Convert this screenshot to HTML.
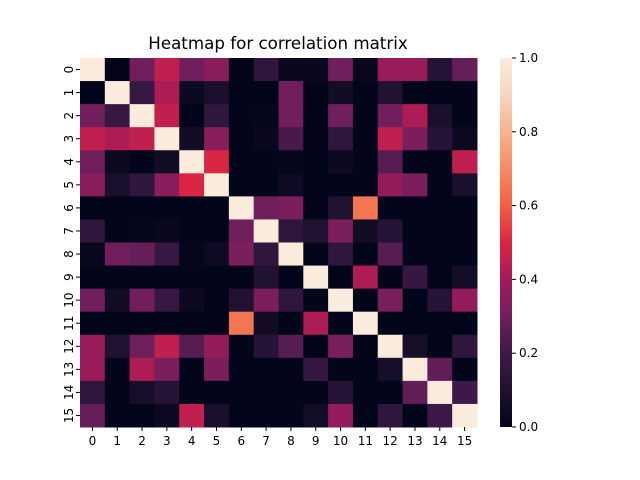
<!DOCTYPE html>
<html><head><meta charset="utf-8"><style>body{margin:0;background:#fff}svg{display:block;font-family:"DejaVu Sans","Liberation Sans",sans-serif}</style></head>
<body>
<svg id="c" width="640" height="480">
<defs><linearGradient id="cg" x1="0" y1="1" x2="0" y2="0"></linearGradient></defs>
<text x="278" y="49" text-anchor="middle" font-size="16.7">Heatmap for correlation matrix</text>
</svg>
<script>
const labels=["0","1","2","3","4","5","6","7","8","9","10","11","12","13","14","15"];
const row0=[1,0,.3,.45,.3,.35,0,.15,.02,.02,.3,.02,.38,.38,.12,.28];
const row1=[0,1,.18,.42,.03,.08,0,0,.3,0,.05,0,.1,0,0,0];
const row2=[.3,.18,1,.45,0,.15,0,.01,.3,0,.3,0,.3,.42,.08,0];
const row3=[.45,.42,.45,1,.05,.35,0,.02,.22,0,.15,0,.45,.32,.12,.03];
const row4=[.3,.03,0,.05,1,.5,0,0,.01,0,.03,0,.25,0,0,.45];
const row5=[.35,.08,.15,.35,.5,1,0,0,.04,0,0,0,.37,.32,0,.08];
const row6=[0,0,0,0,0,0,1,.3,.32,0,.1,.65,0,0,0,0];
const row7=[.15,0,.01,.02,0,0,.3,1,.15,.1,.32,.05,.12,0,0,0];
const row8=[.02,.3,.28,.18,.01,.04,.32,.15,1,0,.15,0,.25,0,0,0];
const row9=[0,0,0,0,0,0,0,.1,0,1,0,.42,0,.17,0,.06];
const row10=[.3,.05,.3,.18,.03,0,.1,.32,.15,0,1,0,.32,0,.12,.37];
const row11=[0,0,0,0,0,0,.65,.05,0,.42,0,1,0,0,0,0];
const row12=[.38,.1,.3,.45,.25,.37,0,.12,.25,0,.32,0,1,.07,0,.15];
const row13=[.38,0,.42,.32,0,.32,0,0,0,.17,0,0,.07,1,.27,0];
const row14=[.15,0,.07,.12,0,0,0,0,0,0,.12,0,0,.27,1,.2];
const row15=[.28,0,0,.03,.45,.08,0,0,0,.06,.37,0,.15,0,.2,1];
const matrix=[row0,row1,row2,row3,row4,row5,row6,row7,row8,row9,row10,row11,row12,row13,row14,row15];
const cbTicks=[0,0.2,0.4,0.6,0.8,1.0];
const stops=[[0,[3,5,26]],[.1,[32,18,48]],[.2,[62,25,72]],[.3,[112,31,92]],[.4,[163,26,90]],[.5,[218,38,68]],[.6,[241,95,67]],[.7,[245,140,99]],[.8,[246,180,143]],[.9,[248,214,190]],[1,[250,235,221]]];
function cmap(v){v=Math.max(0,Math.min(1,v));for(let i=1;i<stops.length;i++){if(v<=stops[i][0]){const a=stops[i-1],b=stops[i],t=(v-a[0])/(b[0]-a[0]);return 'rgb('+a[1].map((c,k)=>Math.round(c+(b[1][k]-c)*t)).join(',')+')';}}return 'rgb(250,235,221)';}
const NS="http://www.w3.org/2000/svg",svg=document.getElementById('c');
const X0=80,X1=477,Y0=58,Y1=427,n=labels.length,cw=(X1-X0)/n,ch=(Y1-Y0)/n;
const xs=i=>X0+i*cw, ys=j=>Y0+j*ch;
function mk(t,a){const e=document.createElementNS(NS,t);for(const k in a)e.setAttribute(k,a[k]);svg.appendChild(e);return e;}
matrix.forEach((r,j)=>r.forEach((v,i)=>{
 const e=mk('rect',{x:xs(i),y:ys(j),width:cw+0.5,height:ch+0.5,fill:cmap(v)});
 
 
}));
labels.forEach((l,i)=>{
 const t=mk('line',{x1:xs(i)+cw/2,x2:xs(i)+cw/2,y1:Y1,y2:Y1+4,stroke:'#000'});
 
 
 const tx=mk('text',{x:xs(i)+cw/2,y:Y1+18,'text-anchor':'middle','font-size':12});tx.textContent=l;
 
 
 const yt=mk('line',{x1:X0-4,x2:X0,y1:ys(i)+ch/2,y2:ys(i)+ch/2,stroke:'#000'});
 
 
 const ty=mk('text',{x:0,y:0,'text-anchor':'middle','font-size':12,transform:`translate(${X0-11},${ys(i)+ch/2}) rotate(-90) translate(0,4)`});ty.textContent=l;
 
 
});
const g=document.getElementById('cg');
for(let k=0;k<=20;k++){const s=document.createElementNS(NS,'stop');s.setAttribute('offset',k/20);s.setAttribute('stop-color',cmap(k/20));g.appendChild(s);}
const CX=500,CW=12;
const cb=mk('rect',{x:CX,y:Y0,width:CW,height:Y1-Y0,fill:'url(#cg)'});


cbTicks.forEach(v=>{
 const y=Y1-v*(Y1-Y0);
 const t=mk('line',{x1:CX+CW,x2:CX+CW+4,y1:y,y2:y,stroke:'#000'});
 
 
 const tx=mk('text',{x:CX+CW+7,y:y+4,'font-size':12});tx.textContent=v.toFixed(1);
 
 
});
</script>
</body></html>
